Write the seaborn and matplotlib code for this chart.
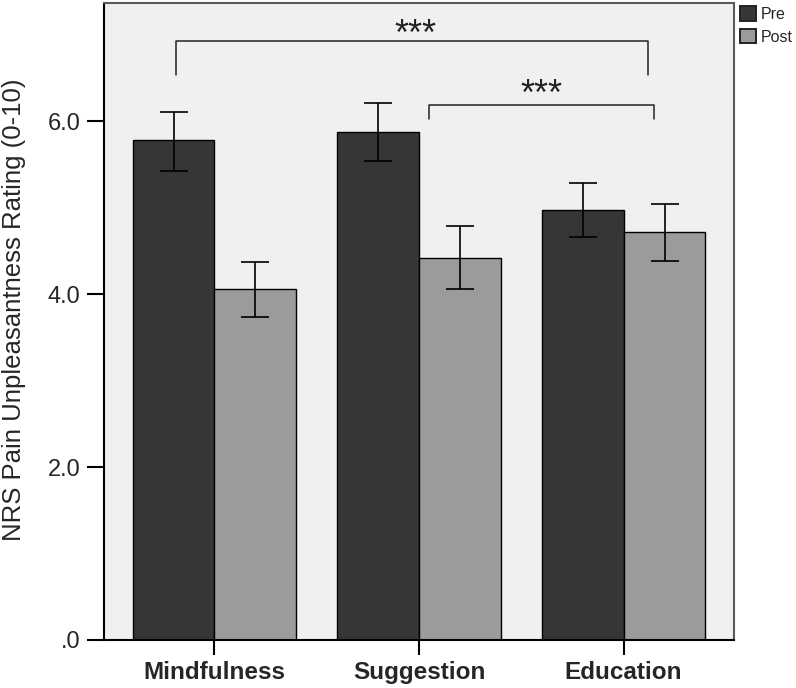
import pandas as pd
import matplotlib.pyplot as plt
import seaborn as sns
from matplotlib.patches import Patch

# Dados
groups = ['Mindfulness', 'Suggestion', 'Education']
phases = ['Pre', 'Post']
pre_mean = [5.78, 5.88, 4.98]
post_mean = [4.06, 4.42, 4.72]
pre_low = [5.43, 5.54, 4.66]
pre_high = [6.11, 6.21, 5.29]
post_low = [3.74, 4.06, 4.39]
post_high = [4.37, 4.79, 5.05]

df = pd.DataFrame({
    'group': groups * 2,
    'phase': ['Pre'] * 3 + ['Post'] * 3,
    'rating': pre_mean + post_mean,
    'low': pre_low + post_low,
    'high': pre_high + post_high,
})

sns.set_theme(style="white")
plt.rcParams['font.family'] = ['Liberation Sans', 'DejaVu Sans']

fig = plt.figure(figsize=(7.96, 6.88), dpi=100)
ax = fig.add_axes([0.1307, 0.0698, 0.7915, 0.9258])
ax.set_facecolor('#f0f0f0')

colors = {'Pre': '#363636', 'Post': '#9b9b9b'}
sns.barplot(data=df, x='group', y='rating', hue='phase', order=groups,
            hue_order=phases, palette=colors, width=0.8, errorbar=None,
            edgecolor='black', linewidth=1.0, legend=False, ax=ax)

# Barras de erro a partir das posições das barras
for cont, phase in zip(ax.containers, phases):
    sub = df[df['phase'] == phase].set_index('group').loc[groups]
    xs = [b.get_x() + b.get_width() / 2 for b in cont]
    ys = [b.get_height() for b in cont]
    yerr = [sub['rating'] - sub['low'], sub['high'] - sub['rating']]
    ax.errorbar(xs, ys, yerr=yerr, fmt='none', ecolor='black',
                elinewidth=1.2, capsize=10, capthick=1.2, zorder=5)

ax.set_xlim(-0.54, 2.54)
ax.set_ylim(0, 7.37)
ax.set_yticks([0, 2, 4, 6])
ax.set_yticklabels(['.0', '2.0', '4.0', '6.0'], fontsize=17)
ax.set_xticks([0, 1, 2])
ax.set_xticklabels(groups, fontsize=17.5, fontweight='bold')
ax.set_xlabel('')
ax.set_ylabel('NRS Pain Unpleasantness Rating (0-10)', fontsize=18.5)
ax.yaxis.set_label_coords(-0.124, 0.518)
ax.tick_params(axis='y', direction='out', length=12, width=1.5,
               color='black', left=True, pad=5)
ax.tick_params(axis='x', direction='out', length=11, width=1.5,
               color='black', bottom=True, pad=4)

for side in ['left', 'bottom']:
    ax.spines[side].set_color('black')
    ax.spines[side].set_linewidth(1.5)
for side in ['top', 'right']:
    ax.spines[side].set_color('#5a5a5a')
    ax.spines[side].set_linewidth(1.5)

# Chaves de significância
def bracket(x1, x2, y, h, tx, ty):
    ax.plot([x1, x1, x2, x2], [y - h, y, y, y - h], color='#222222',
            lw=1.1, solid_joinstyle='round', clip_on=False)
    ax.text(tx, ty, '***', ha='center', va='baseline',
            fontsize=26, color='#222222')

bracket(-0.19, 2.12, 6.93, 0.39, 0.98, 6.89)
bracket(1.05, 2.15, 6.19, 0.16, 1.60, 6.19)

handles = [Patch(facecolor=colors[p], edgecolor='#222222', linewidth=1.4, label=p)
           for p in phases]
fig.legend(handles=handles, loc='upper left', bbox_to_anchor=(0.922, 1.0),
           frameon=False, fontsize=11.5, handlelength=1.0, handleheight=1.0,
           handletextpad=0.3, labelspacing=0.45, borderaxespad=0.2,
           borderpad=0.2)

plt.savefig('out.png', dpi=100)
